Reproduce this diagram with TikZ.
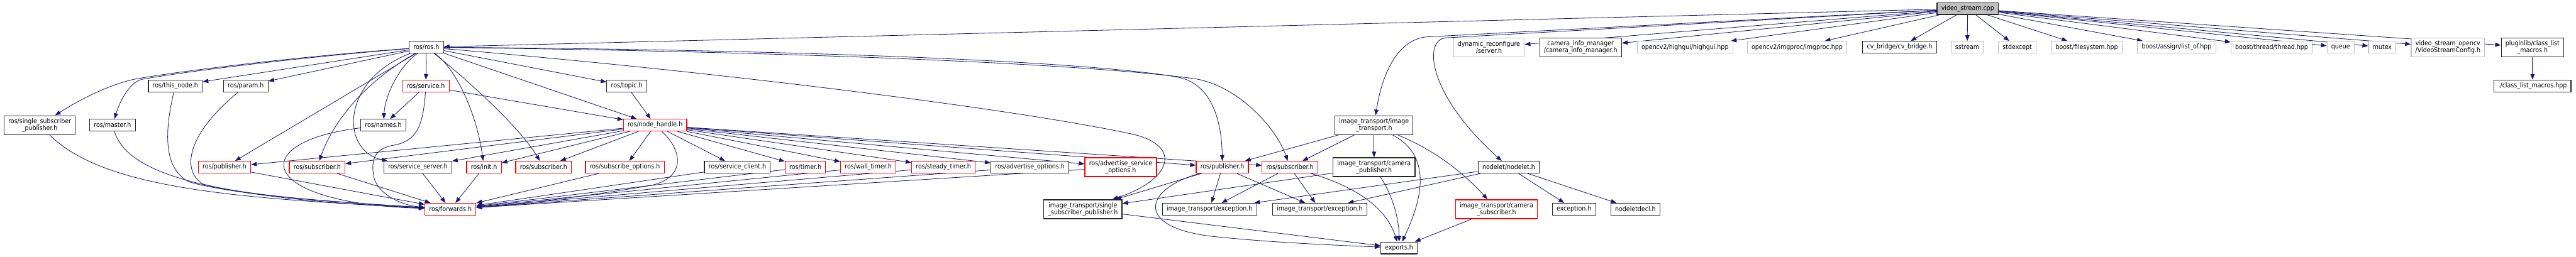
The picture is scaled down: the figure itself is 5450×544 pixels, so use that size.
\documentclass[tikz,border=0pt]{standalone}
\usepackage{fontspec}
\setmainfont{DejaVu Sans Condensed}
\usetikzlibrary{arrows.meta,backgrounds}
\definecolor{edgeblue}{HTML}{191970}
\definecolor{grey75}{HTML}{BFBFBF}

\begin{document}
\begin{tikzpicture}[x=1pt,y=-1pt,
  hdr/.style={draw=black!85,line width=1.6pt,fill=white,inner xsep=9pt,inner ysep=0pt,
    minimum height=25pt,align=center,font=\fontsize{14}{13.5}\selectfont},
  two/.style={minimum height=40pt},
  trunc/.style={draw=red},
  ext/.style={draw=grey75},
  dep/.style={edgeblue,line width=1.1pt,-{Triangle[length=12pt,width=9pt]}}]
\useasboundingbox (0,0) rectangle (5450,544);

% root file
\node[hdr,fill=grey75] (vs) at (4163,18) {video\_stream.cpp};

% first level
\node[hdr] (ros) at (902,100) {ros/ros.h};
\node[hdr,two,ext] (dynrec) at (3150,100) {dynamic\_reconfigure\\/server.h};
\node[hdr,two] (caminfo) at (3344,100) {camera\_info\_manager\\/camera\_info\_manager.h};
\node[hdr,ext] (highgui) at (3565,100) {opencv2/highgui/highgui.hpp};
\node[hdr,ext] (imgproc) at (3802,100) {opencv2/imgproc/imgproc.hpp};
\node[hdr] (cvbridge) at (4019,100) {cv\_bridge/cv\_bridge.h};
\node[hdr,ext] (sstream) at (4162,100) {sstream};
\node[hdr,ext] (stdexc) at (4268,100) {stdexcept};
\node[hdr,ext] (bfs) at (4415,100) {boost/filesystem.hpp};
\node[hdr,ext] (blist) at (4605,100) {boost/assign/list\_of.hpp};
\node[hdr,ext] (bthread) at (4806,100) {boost/thread/thread.hpp};
\node[hdr,ext] (queue) at (4952,100) {queue};
\node[hdr,ext] (mutex) at (5040,100) {mutex};
\node[hdr,two,ext] (vscfg) at (5179,100) {video\_stream\_opencv\\/VideoStreamConfig.h};
\node[hdr,two] (plugin) at (5358,100) {pluginlib/class\_list\\\_macros.h};

% second level
\node[hdr] (thisnode) at (371,182) {ros/this\_node.h};
\node[hdr] (param) at (520,182) {ros/param.h};
\node[hdr,trunc] (service) at (901,182) {ros/service.h};
\node[hdr] (topic) at (1326,182) {ros/topic.h};
\node[hdr] (clm) at (5358,182) {./class\_list\_macros.hpp};

% third level
\node[hdr,two] (rosssp) at (84,265) {ros/single\_subscriber\\\_publisher.h};
\node[hdr] (master) at (238,265) {ros/master.h};
\node[hdr] (names) at (811,265) {ros/names.h};
\node[hdr,trunc] (nh) at (1386,265) {ros/node\_handle.h};
\node[hdr,two] (itr) at (2907,265) {image\_transport/image\\\_transport.h};

% fourth level
\node[hdr,trunc] (pubA) at (475,354) {ros/publisher.h};
\node[hdr,trunc] (subA) at (671,354) {ros/subscriber.h};
\node[hdr] (sserver) at (884,354) {ros/service\_server.h};
\node[hdr,trunc] (init) at (1024,354) {ros/init.h};
\node[hdr,trunc] (subB) at (1150,354) {ros/subscriber.h};
\node[hdr,trunc] (subopt) at (1322,354) {ros/subscribe\_options.h};
\node[hdr] (sclient) at (1560,354) {ros/service\_client.h};
\node[hdr,trunc] (timer) at (1704,354) {ros/timer.h};
\node[hdr,trunc] (wtimer) at (1837,354) {ros/wall\_timer.h};
\node[hdr,trunc] (stimer) at (1996,354) {ros/steady\_timer.h};
\node[hdr] (advopt) at (2179,354) {ros/advertise\_options.h};
\node[hdr,two,trunc] (advsrv) at (2371,354) {ros/advertise\_service\\\_options.h};
\node[hdr,trunc] (pubC) at (2586,354) {ros/publisher.h};
\node[hdr,trunc] (subC) at (2729,354) {ros/subscriber.h};
\node[hdr,two] (campub) at (2907,354) {image\_transport/camera\\\_publisher.h};
\node[hdr] (nodelet) at (3192,354) {nodelet/nodelet.h};

% fifth level
\node[hdr,trunc] (fwd) at (953,443) {ros/forwards.h};
\node[hdr,two] (itssp) at (2291,443) {image\_transport/single\\\_subscriber\_publisher.h};
\node[hdr] (exc1) at (2559,443) {image\_transport/exception.h};
\node[hdr] (exc2) at (2792,443) {image\_transport/exception.h};
\node[hdr,two,trunc] (camsub) at (3166,443) {image\_transport/camera\\\_subscriber.h};
\node[hdr] (exception) at (3330,443) {exception.h};
\node[hdr] (ndecl) at (3460,443) {nodeletdecl.h};
\node[hdr] (exports) at (2960,525) {exports.h};

\begin{scope}[on background layer]
% includes of the root
\draw[dep] (vs) -- (ros);
\draw[dep] (vs) -- (3020,78) .. controls (2960,82) and (2925,150) .. (itr);
\draw[dep] (vs) -- (3060,80) .. controls (3010,83) and (3020,200) .. (nodelet);
\draw[dep] (vs) -- (dynrec);
\draw[dep] (vs) -- (caminfo);
\draw[dep] (vs) -- (highgui);
\draw[dep] (vs) -- (imgproc);
\draw[dep] (vs) -- (cvbridge);
\draw[dep] (vs) -- (sstream);
\draw[dep] (vs) -- (stdexc);
\draw[dep] (vs) -- (bfs);
\draw[dep] (vs) -- (blist);
\draw[dep] (vs) -- (bthread);
\draw[dep] (vs) -- (queue);
\draw[dep] (vs) -- (mutex);
\draw[dep] (vs) -- (vscfg);
\draw[dep] (vs) -- (plugin);
\draw[dep] (plugin) -- (clm);

% ros/ros.h
\draw[dep] (ros) .. controls (650,118) and (380,150) .. (283,168)
  .. controls (230,180) and (170,210) .. (rosssp);
\draw[dep] (ros) .. controls (650,120) and (400,150) .. (300,168)
  .. controls (275,175) and (255,210) .. (master);
\draw[dep] (ros) -- (thisnode);
\draw[dep] (ros) -- (param);
\draw[dep] (ros) -- (pubA);
\draw[dep] (ros) .. controls (760,180) and (700,270) .. (subA);
\draw[dep] (ros) -- (service);
\draw[dep] (ros) .. controls (845,140) and (815,200) .. (names);
\draw[dep] (ros) .. controls (720,170) and (720,320) .. (sserver);
\draw[dep] (ros) .. controls (970,150) and (1010,250) .. (init);
\draw[dep] (ros) .. controls (990,170) and (1100,270) .. (subB);
\draw[dep] (ros) -- (nh);
\draw[dep] (ros) -- (topic);
\draw[dep] (ros) .. controls (1700,105) and (2300,130) .. (2490,163)
  .. controls (2560,175) and (2585,250) .. (pubC);
\draw[dep] (ros) .. controls (1700,110) and (2300,135) .. (2530,167)
  .. controls (2620,183) and (2700,270) .. (subC);
\draw[dep] (ros) .. controls (1500,150) and (2150,230) .. (2400,285)
  .. controls (2500,310) and (2480,380) .. (itssp);

% ros/service.h, ros/names.h, ros/topic.h
\draw[dep] (service) -- (names);
\draw[dep] (service) -- (nh);
\draw[dep] (service) .. controls (895,270) and (880,300) .. (830,308)
  .. controls (795,315) and (785,335) .. (790,370)
  .. controls (795,410) and (850,435) .. (fwd);
\draw[dep] (names) .. controls (520,300) and (540,430) .. (fwd);
\draw[dep] (topic) -- (nh);

% ros/node_handle.h
\foreach \dst in {pubA,subA,sserver,init,subB,subopt,sclient,timer,wtimer,stimer,advopt,advsrv,pubC,subC}
  \draw[dep] (nh) -- (\dst);
\draw[dep] (nh) .. controls (1445,320) and (1450,375) .. (1380,392)
  .. controls (1250,415) and (1080,435) .. (fwd);

% into ros/forwards.h
\draw[dep] (rosssp) .. controls (220,400) and (500,420) .. (fwd);
\draw[dep] (master) .. controls (270,370) and (450,420) .. (fwd);
\draw[dep] (thisnode) .. controls (345,290) and (350,360) .. (400,385)
  .. controls (500,415) and (750,430) .. (fwd);
\draw[dep] (param) .. controls (400,280) and (380,360) .. (430,390)
  .. controls (550,420) and (780,432) .. (fwd);
\foreach \src in {pubA,subA,sserver,init,subopt,sclient,timer,wtimer,stimer,advopt,advsrv}
  \draw[dep] (\src) -- (fwd);

% image_transport
\draw[dep] (itr) -- (pubC);
\draw[dep] (itr) -- (subC);
\draw[dep] (itr) -- (campub);
\draw[dep] (itr) .. controls (3030,330) and (3010,420) .. (exports);
\draw[dep] (itr) .. controls (3040,320) and (3100,370) .. (camsub);
\draw[dep] (campub) -- (itssp);
\draw[dep] (campub) .. controls (2950,420) and (2960,470) .. (exports);
\draw[dep] (camsub) -- (exports);
\draw[dep] (pubC) -- (itssp);
\draw[dep] (pubC) -- (exc1);
\draw[dep] (pubC) -- (exc2);
\draw[dep] (pubC) .. controls (2420,400) and (2400,480) .. (2560,500)
  .. controls (2700,515) and (2850,520) .. (exports);
\draw[dep] (subC) -- (exc1);
\draw[dep] (subC) -- (exc2);
\draw[dep] (subC) .. controls (2850,390) and (2930,430) .. (exports);
\draw[dep] (itssp) -- (exports);

% nodelet
\draw[dep] (nodelet) -- (exc1);
\draw[dep] (nodelet) -- (exc2);
\draw[dep] (nodelet) -- (exception);
\draw[dep] (nodelet) -- (ndecl);
\end{scope}
\end{tikzpicture}
\end{document}
